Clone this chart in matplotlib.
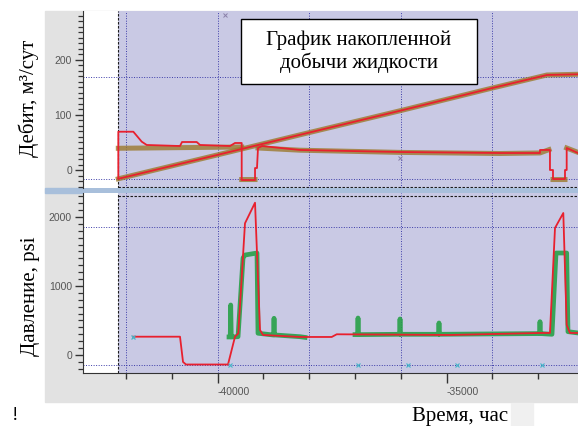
import numpy as np
import matplotlib
matplotlib.use("Agg")
import matplotlib.pyplot as plt
from matplotlib.patches import Rectangle
from matplotlib.ticker import MultipleLocator, FixedLocator

# ----------------------------------------------------------
# DATA
# ----------------------------------------------------------
nan = np.nan

# cumulative liquid production (upper panel, red rising line)
cum_t = [-42166, -40000, -38000, -36000, -34000, -32806, -32129]
cum_q = [-16.0, 27.5, 68.0, 108.0, 149.0, 172.7, 174.0]

# rate, model (red)
rate_t = [-42166, -42166, -41838, -41655, -41546, -40819, -40775, -40454,
          -40382, -39727, -39618, -39472, -39472, -39181, -39181, -39138,
          -39116, -39028, -38199, -36015, -33832, -32959, -32959, -32762,
          -32741, -32741, -32675, -32675, -32413, -32413, -32376, -32376,
          -32129]
rate_q = [-14.5, 69.6, 69.6, 51.5, 45.5, 43.6, 50.9, 50.9,
          45.5, 43.6, 49.1, 49.1, -18.2, -18.2, 3.6, 3.6,
          40.0, 43.6, 36.4, 32.7, 30.9, 30.9, 36.4, 36.4,
          36.4, 0.0, 0.0, -16.4, -16.4, 0.0, 0.0, 40.0,
          30.9]

# rate, measured (brown)
rate_meas_t = [-42166, -39472, nan, -39472, -39181, nan, -39116, -38199,
               -36015, -33832, -32959, -32762, nan, -32675, -32413, nan,
               -32376, -32129]
rate_meas_q = [39.5, 41.8, nan, -17.3, -17.3, nan, 40.0, 36.0,
               32.0, 30.0, 31.0, 37.0, nan, -17.3, -17.3, nan,
               40.0, 32.0]

# stray points in the upper panel
stray_t = [-39836, -36015]
stray_q = [281.8, 21.8]

# pressure, model (red)
p_t = [-41845, -40819, -40753, -40688, -39771, -39618, -39546, -39400,
       -39181, -39072, -39007, -38199, -37507, -37397, -34923, -32959,
       -32741, -32631, -32450, -32376, -32304, -32129]
p_v = [265, 265, -101, -138, -138, 265, 314, 1909,
       2207, 362, 290, 261, 261, 300, 290, 319,
       319, 1841, 2058, 435, 319, 319]

# pressure, measured (green)
pm_t = [-39749, -39722, -39712, -39700, -39690, -39552, -39443, -39400,
        -39138, -39116, -38788, -38776, -38766, -38756, -38744, -38199,
        -38089, nan,
        -36998, -36942, -36932, -36922, -36910, -36037, -36025, -36015,
        -36005, -35993, -35186, -35174, -35164, -35154, -35142, -32981,
        -32969, -32959, -32949, -32937, -32697, -32609, -32376, -32348,
        -32129]
pm_v = [261, 261, 725, 261, 261, 265, 1406, 1449,
        1478, 315, 290, 290, 532, 290, 290, 265,
        255, nan,
        295, 295, 536, 295, 295, 300, 300, 522,
        300, 300, 300, 300, 464, 300, 300, 310,
        310, 483, 310, 310, 300, 1478, 1478, 338,
        319]

# zero-pressure markers (cyan)
zero_t = [-39727, -36932, -35840, -34771, -32915]
zero_v = [-145, -145, -145, -145, -145]
start_t = [-41845]
start_v = [265]

# reference lines and ticks
t_data_start = -42166
up_hlines = [169, -17]
low_hlines = [1855, -145]
v_grid = [-42000, -40000, -38000, -36000, -34000]
x_ticks = [-40000, -35000]
x_tick_labels = ["-40000", "-35000"]
up_ticks = [0, 100, 200]
low_ticks = [0, 1000, 2000]

# ----------------------------------------------------------
# STYLE
# ----------------------------------------------------------
W, H = 578, 426
PURPLE = "#c9c9e4"
GRAY = "#e2e2e2"
RED = "#e8202e"
BROWN = "#9c7a2e"
GREEN = "#27a048"
CYAN = "#45b5c8"
GRID = "#3b3ba8"
TICKFONT = ["Liberation Sans Narrow", "Liberation Sans", "DejaVu Sans"]
SERIF = ["Liberation Serif", "DejaVu Serif"]


def fig_box(x0, y0, x1, y1):
    return [x0 / W, 1 - y1 / H, (x1 - x0) / W, (y1 - y0) / H]


def fx(px):
    return px / W


def fy(py):
    return 1 - py / H


fig = plt.figure(figsize=(W / 100, H / 100), dpi=100)
fig.patch.set_facecolor("white")

# chart frame and separator bar
fig.patches.append(Rectangle((fx(45), fy(402)), fx(533), 391 / H,
                             transform=fig.transFigure, color=GRAY, zorder=-5))
fig.patches.append(Rectangle((fx(45), fy(193)), fx(533), 5 / H,
                             transform=fig.transFigure, color="#a8bfdb", zorder=-4))
fig.patches.append(Rectangle((fx(511), fy(426)), fx(22), 23 / H,
                             transform=fig.transFigure, color="#f0f0f0", zorder=-4))

ax1 = fig.add_axes(fig_box(83, 11, 578, 188))
ax2 = fig.add_axes(fig_box(83, 193, 578, 372.5))

xlim = (-42937, -32129)

for ax in (ax1, ax2):
    ax.set_facecolor("white")
    ax.set_xlim(*xlim)
    ax.axvspan(t_data_start, xlim[1], color=PURPLE, zorder=0, lw=0)
    for v in v_grid:
        ax.axvline(v, color=GRID, lw=0.7, ls=(0, (1, 1.6)), zorder=1)
    ax.axvline(t_data_start, color="#1a1a1a", lw=0.8, ls=(0, (2.2, 1.4)), zorder=1)
    ax.spines["top"].set_visible(False)
    ax.spines["right"].set_visible(False)
    ax.spines["left"].set_color("#333333")

# ----------------------------------------------------------
# UPPER PANEL: rate + cumulative
# ----------------------------------------------------------
ax1.set_ylim(-32.7, 289)
ax1.spines["bottom"].set_visible(False)
ax1.set_xticks([])
ax1.yaxis.set_major_locator(FixedLocator(up_ticks))
ax1.yaxis.set_minor_locator(MultipleLocator(10))
ax1.set_yticklabels([str(v) for v in up_ticks], family=TICKFONT)

for v in up_hlines:
    ax1.axhline(v, color=GRID, lw=0.7, ls=(0, (1, 1.6)), zorder=1)
ax1.hlines(-30.9, t_data_start, xlim[1], color="#1a1a1a", lw=0.8,
           ls=(0, (2.2, 1.4)), zorder=1)

ax1.plot(cum_t, cum_q, color=BROWN, lw=3.6, alpha=0.8, zorder=2)
ax1.plot(rate_meas_t, rate_meas_q, color=BROWN, lw=3.6, alpha=0.8, zorder=2)
ax1.plot(cum_t, cum_q, color=RED, lw=1.3, zorder=3)
ax1.plot(rate_t, rate_q, color=RED, lw=1.3, zorder=3)
ax1.plot(stray_t, stray_q, ls="none", marker="x", ms=2.5, mew=0.7,
         color="#8a80a8", zorder=3)

# ----------------------------------------------------------
# LOWER PANEL: pressure
# ----------------------------------------------------------
ax2.set_ylim(-254, 2348)
ax2.spines["bottom"].set_color("#333333")
ax2.yaxis.set_major_locator(FixedLocator(low_ticks))
ax2.yaxis.set_minor_locator(MultipleLocator(100))
ax2.set_yticklabels([str(v) for v in low_ticks], family=TICKFONT)

for v in low_hlines:
    ax2.axhline(v, color=GRID, lw=0.7, ls=(0, (1, 1.6)), zorder=1)
ax2.hlines(2304, t_data_start, xlim[1], color="#1a1a1a", lw=0.8,
           ls=(0, (2.2, 1.4)), zorder=1)

ax2.plot(pm_t, pm_v, color=GREEN, lw=3.4, alpha=0.9, zorder=2)
ax2.plot(p_t, p_v, color=RED, lw=1.3, zorder=3)
ax2.plot(zero_t, zero_v, ls="none", marker="x", ms=3, mew=0.8,
         color=CYAN, zorder=4)
ax2.plot(start_t, start_v, ls="none", marker="x", ms=3.5, mew=0.9,
         color=CYAN, zorder=4)

ax2.xaxis.set_major_locator(FixedLocator(x_ticks))
ax2.xaxis.set_minor_locator(MultipleLocator(1000))
ax2.set_xticklabels(x_tick_labels, ha="left", family=TICKFONT)
ax2.tick_params(axis="x", which="major", length=7.5, width=1.0, pad=3,
                colors="#333333", labelsize=7.5, labelcolor="#555555")
ax2.tick_params(axis="x", which="minor", length=4.5, width=1.0, colors="#333333")

# y ticks on both panels, set after the locators
for ax in (ax1, ax2):
    ax.tick_params(axis="y", which="major", length=6, width=1.0, pad=2,
                   colors="#333333", labelsize=7.5, labelcolor="#555555")
    ax.tick_params(axis="y", which="minor", left=True, length=3.5, width=0.9,
                   colors="#333333")

# ----------------------------------------------------------
# TEXT
# ----------------------------------------------------------
fig.text(fx(29), fy(98), "Дебит, м³/сут", rotation=90, ha="center",
         va="center", fontsize=15, family=SERIF)
fig.text(fx(30), fy(296), "Давление, psi", rotation=90, ha="center",
         va="center", fontsize=15, family=SERIF)
fig.text(fx(460), fy(416), "Время, час", ha="center", va="center",
         fontsize=15, family=SERIF)
fig.text(fx(15), fy(416), "!", ha="center", va="center", fontsize=14,
         family=SERIF)

fig.patches.append(Rectangle((fx(241), fy(84)), fx(236), 65 / H,
                             transform=fig.transFigure, facecolor="white",
                             edgecolor="black", lw=1.0, zorder=5))
fig.text(fx(359), fy(52), "График накопленной\nдобычи жидкости", ha="center",
         va="center", fontsize=15, family=SERIF, linespacing=1.15, zorder=6)

fig.savefig("out.png", dpi=100)
plt.close(fig)
